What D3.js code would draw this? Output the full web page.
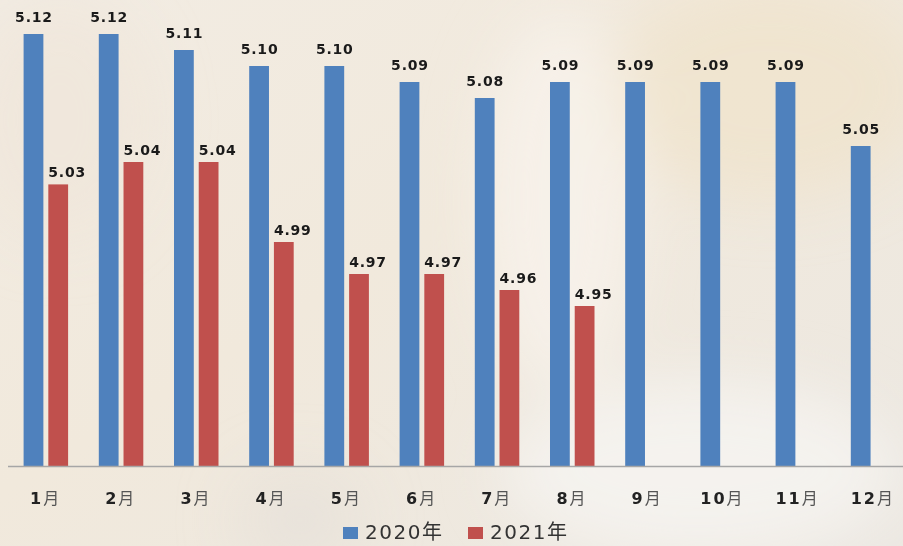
<!DOCTYPE html>
<html>
<head>
<meta charset="utf-8">
<script src="https://cdn.jsdelivr.net/npm/d3@7"></script>
<style>
  html, body { margin: 0; padding: 0; background: #efe9df; }
  svg { display: block; }
  .val { font-family: "DejaVu Sans", "Noto Sans CJK SC", sans-serif; font-weight: bold; font-size: 14px; fill: #1a1a1a; letter-spacing: 0.8px; }
  .xlab { font-family: "DejaVu Sans", "Noto Sans CJK SC", sans-serif; font-size: 16px; letter-spacing: 2px; }
  .leg { font-family: "DejaVu Sans", "Noto Sans CJK SC", sans-serif; font-size: 20px; fill: #333; letter-spacing: 1.5px; }
</style>
</head>
<body>
<div id="chart"></div>
<script>
// data (bar heights, labels show 2 decimals)
const months = ["1月", "2月", "3月", "4月", "5月", "6月", "7月", "8月", "9月", "10月", "11月", "12月"];
const seriesNames = ["2020年", "2021年"];
const values2020 = [5.12, 5.12, 5.11, 5.10, 5.10, 5.09, 5.08, 5.09, 5.09, 5.09, 5.09, 5.05];
const values2021 = [5.026, 5.04, 5.04, 4.99, 4.97, 4.97, 4.96, 4.95];
const colors = ["#4f81bd", "#c0504d"];

const width = 903, height = 546;
const baseY = 466;

const svg = d3.select("#chart").append("svg")
  .attr("width", width)
  .attr("height", height);

// **Background, a soft stand-in for the rice photo
const defs = svg.append("defs");
const bg = defs.append("linearGradient").attr("id", "bg")
  .attr("x1", 0).attr("y1", 0).attr("x2", 1).attr("y2", 1);
bg.append("stop").attr("offset", "0%").attr("stop-color", "#f2ece3");
bg.append("stop").attr("offset", "45%").attr("stop-color", "#f1e9dc");
bg.append("stop").attr("offset", "100%").attr("stop-color", "#ece8e2");
const blur = defs.append("filter").attr("id", "blur")
  .attr("x", "-50%").attr("y", "-50%").attr("width", "200%").attr("height", "200%");
blur.append("feGaussianBlur").attr("stdDeviation", 30);

svg.append("rect").attr("width", width).attr("height", height).attr("fill", "url(#bg)");
const glow = svg.append("g").attr("filter", "url(#blur)");
glow.append("ellipse").attr("cx", 770).attr("cy", 90).attr("rx", 160).attr("ry", 110)
  .attr("fill", "#f0e2ca").attr("opacity", 0.7);
glow.append("ellipse").attr("cx", 560).attr("cy", 200).attr("rx", 80).attr("ry", 190)
  .attr("fill", "#f7f3ec").attr("opacity", 0.8);
glow.append("ellipse").attr("cx", 700).attr("cy", 470).attr("rx", 200).attr("ry", 90)
  .attr("fill", "#f5f3f0").attr("opacity", 0.9);
glow.append("ellipse").attr("cx", 60).attr("cy", 120).attr("rx", 90).attr("ry", 120)
  .attr("fill", "#efe5da").attr("opacity", 0.7);
glow.append("ellipse").attr("cx", 300).attr("cy", 520).attr("rx", 60).attr("ry", 50)
  .attr("fill", "#e6e0d8").attr("opacity", 0.7);

// **Scales
const x0 = d3.scaleBand().domain(months).range([8, 8 + 12 * 75.2]);
const x1 = d3.scaleBand().domain(seriesNames).range([-22, 22.5]).paddingInner(0.2);
const y = d3.scaleLinear().domain([4.85, 5.12]).range([baseY, 34]);

const rows = [values2020, values2021].map((vals, s) =>
  vals.map((v, i) => ({ s: seriesNames[s], c: colors[s], m: months[i], v: v, k: s })));

// **Bars
const groups = svg.append("g");
rows.forEach((row) => {
  groups.selectAll(null)
    .data(row)
    .enter()
    .append("rect")
    .attr("x", (d) => x0(d.m) + x0.bandwidth() / 2 + x1(d.s))
    .attr("y", (d) => y(d.v))
    .attr("width", x1.bandwidth())
    .attr("height", (d) => baseY - y(d.v))
    .attr("fill", (d) => d.c);

  // value labels, 2021 ones sit a bit right and closer to the bar
  groups.selectAll(null)
    .data(row)
    .enter()
    .append("text")
    .attr("class", "val")
    .attr("text-anchor", "middle")
    .attr("x", (d) => x0(d.m) + x0.bandwidth() / 2 + x1(d.s) + x1.bandwidth() / 2 + (d.k ? 9 : 0.5))
    .attr("y", (d) => y(d.v) - (d.k ? 7 : 12.5))
    .text((d) => d.v.toFixed(2));
});

// **X axis
const xAxis = d3.axisBottom(x0).tickSize(0).tickFormat("");
const gx = svg.append("g")
  .attr("transform", `translate(0, ${baseY})`)
  .call(xAxis);
gx.select(".domain").attr("stroke", "#a6a6a6").attr("stroke-width", 1.5)
  .attr("d", `M8,0.5H${width}`);

const xl = svg.append("g").selectAll("text")
  .data(months)
  .enter()
  .append("text")
  .attr("class", "xlab")
  .attr("text-anchor", "middle")
  .attr("x", (d) => x0(d) + x0.bandwidth() / 2)
  .attr("y", 504);
xl.append("tspan").attr("font-weight", "bold").attr("fill", "#222")
  .text((d) => d.replace("月", ""));
xl.append("tspan").attr("fill", "#555").text("月");

// **Legend
const legX = [343, 468];
const leg = svg.append("g").selectAll("g")
  .data(seriesNames)
  .enter()
  .append("g")
  .attr("transform", (d, i) => `translate(${legX[i]}, 527)`);
leg.append("rect").attr("width", 15).attr("height", 12).attr("fill", (d, i) => colors[i]);
leg.append("text").attr("class", "leg").attr("x", 22).attr("y", 12).text((d) => d);
</script>
</body>
</html>
